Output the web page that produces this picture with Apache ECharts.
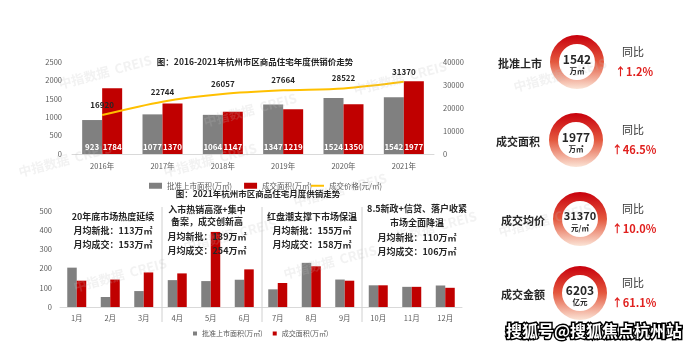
<!DOCTYPE html>
<html>
<head>
<meta charset="utf-8">
<script src="https://cdn.jsdelivr.net/npm/echarts@6/dist/echarts.min.js"></script>
<style>
  html, body { margin: 0; padding: 0; background: #fff; }
  #chart { width: 689px; height: 354px; }
</style>
</head>
<body>
<div id="chart"></div>
<script>
const FONT = '"Noto Sans CJK SC", "Noto Sans", sans-serif';

// yearly supply / sales / price
const years = ['2016年', '2017年', '2018年', '2019年', '2020年', '2021年'];
const approvedYear = [923, 1077, 1064, 1347, 1524, 1542];
const soldYear = [1784, 1370, 1147, 1219, 1350, 1977];
const priceYear = [16920, 22744, 26057, 27664, 28522, 31370];

// 2021 monthly
const months = ['1月', '2月', '3月', '4月', '5月', '6月', '7月', '8月', '9月', '10月', '11月', '12月'];
const approvedMonth = [205, 52, 83, 140, 135, 142, 92, 230, 143, 113, 105, 112];
const soldMonth = [137, 143, 180, 175, 391, 196, 125, 212, 137, 113, 105, 100];

// annotations per quarter
const quarterNotes = [
  ['20年底市场热度延续', '月均新批：113万㎡', '月均成交：153万㎡'],
  ['入市热销高涨+集中', '备案，成交创新高', '月均新批：139万㎡', '月均成交：254万㎡'],
  ['红盘潮支撑下市场保温', '月均新批：155万㎡', '月均成交：158万㎡'],
  ['8.5新政+信贷、落户收紧', '市场全面降温', '月均新批：110万㎡', '月均成交：106万㎡']
];

// KPI cards
const kpiNames = ['批准上市', '成交面积', '成交均价', '成交金额'];
const kpiValues = ['1542', '1977', '31370', '6203'];
const kpiUnits = ['万㎡', '万㎡', '元/㎡', '亿元'];
const kpiYoY = ['↑1.2%', '↑46.5%', '↑10.0%', '↑61.1%'];

const GRAY = '#808080';
const RED = '#c00000';
const GOLD = '#ffc000';

const chart = echarts.init(document.getElementById('chart'));

function txt(text, x, y, size, opts) {
  opts = opts || {};
  return {
    type: 'text',
    silent: true,
    z: opts.z || 10,
    rotation: opts.rotation || 0,
    x: x, y: y,
    style: {
      text: text,
      x: 0, y: 0,
      fill: opts.fill || '#262626',
      stroke: opts.stroke,
      lineWidth: opts.lineWidth,
      font: (opts.weight || 'normal') + ' ' + size + 'px ' + FONT,
      textAlign: 'center', align: 'center',
      textVerticalAlign: 'middle', verticalAlign: 'middle'
    }
  };
}

const graphics = [];

// faint CREIS watermarks
[[105, 72], [250, 110], [400, 78], [65, 160], [210, 160], [340, 190], [120, 275],
 [230, 235], [330, 262], [430, 228], [560, 75], [545, 220]].forEach(p => {
  graphics.push(txt('中指数据  CREIS', p[0], p[1], 13, {
    fill: 'rgba(190,190,190,0.2)', weight: 'bold', rotation: 0.26, z: 0
  }));
});

graphics.push(txt('图：2016-2021年杭州市区商品住宅年度供销价走势', 255, 62, 8.5, { weight: 'bold' }));
graphics.push(txt('图：2021年杭州市区商品住宅月度供销走势', 258, 194, 8.5, { weight: 'bold' }));

// quarter separators
[162, 262, 362].forEach(x => {
  graphics.push({
    type: 'line', silent: true, z: 5,
    shape: { x1: x, y1: 207, x2: x, y2: 322 },
    style: { stroke: '#d0d0d0', lineWidth: 1 }
  });
});

const noteX = [113, 207, 312, 417];
const noteY = [[217, 231, 245], [210, 222, 237, 251], [217, 231, 245], [209, 223, 238, 252]];
quarterNotes.forEach((lines, i) => {
  lines.forEach((l, j) => {
    graphics.push(txt(l, noteX[i], noteY[i][j], 9, { weight: 'bold', z: 20 }));
  });
});

// KPI labels
const ringCenters = [[577, 62], [576, 140], [580, 219], [580, 293]];
const nameX = [520, 518, 523, 523];
kpiNames.forEach((n, i) => {
  const c = ringCenters[i];
  graphics.push(txt(n, nameX[i], c[1] + 2, 11, { weight: 'bold' }));
  graphics.push(txt(kpiValues[i], c[0], c[1] - 3, kpiValues[i].length > 4 ? 11 : 12, { weight: 'bold', z: 30 }));
  graphics.push(txt(kpiUnits[i], c[0], c[1] + 9, 7.5, { weight: 'bold', z: 30 }));
  graphics.push(txt('同比', 633, c[1] - 10, 11, { fill: '#333' }));
  graphics.push(txt(kpiYoY[i], 634, c[1] + 10, 11, { fill: '#e0201e', weight: 'bold' }));
});

graphics.push(txt('搜狐号@搜狐焦点杭州站', 594, 331, 16, {
  fill: '#fff', stroke: '#000', lineWidth: 3, weight: 'bold', z: 50
}));

const ringGradient = new echarts.graphic.LinearGradient(0, 0, 0, 1, [
  { offset: 0, color: '#c8000c' },
  { offset: 0.5, color: '#e4583e' },
  { offset: 1, color: '#fbe4d6' }
]);

const axisLabel = { color: '#595959', fontSize: 7.5, fontFamily: FONT, formatter: v => String(v) };

const option = {
  animation: false,
  backgroundColor: '#fff',
  textStyle: { fontFamily: FONT },
  graphic: graphics,
  legend: [
    {
      data: ['批准上市面积(万㎡)', '成交面积(万㎡)'],
      left: 144, top: 177, itemWidth: 13, itemHeight: 6, itemGap: 12, icon: 'rect',
      textStyle: { color: '#595959', fontSize: 7.5 }, selectedMode: false
    },
    {
      data: ['成交价格(元/㎡)'],
      left: 306, top: 177, itemWidth: 13, itemHeight: 2, icon: 'rect',
      textStyle: { color: '#595959', fontSize: 7.5 }, selectedMode: false
    },
    {
      data: ['批准上市面积(万㎡)', '成交面积(万㎡)'],
      left: 188, top: 325, itemWidth: 4, itemHeight: 4, itemGap: 10, icon: 'rect',
      textStyle: { color: '#595959', fontSize: 7 }, selectedMode: false
    }
  ],
  grid: [
    { left: 72, right: 255, top: 62, bottom: 200 },
    { left: 60, right: 227, top: 211, bottom: 47 }
  ],
  xAxis: [
    {
      gridIndex: 0, type: 'category', data: years,
      axisLine: { lineStyle: { color: '#d9d9d9' } }, axisTick: { show: false },
      axisLabel: Object.assign({}, axisLabel, { margin: 8 })
    },
    {
      gridIndex: 1, type: 'category', data: months,
      axisLine: { lineStyle: { color: '#d9d9d9' } }, axisTick: { show: false },
      axisLabel: Object.assign({}, axisLabel, { margin: 7 })
    }
  ],
  yAxis: [
    {
      gridIndex: 0, type: 'value', min: 0, max: 2500, interval: 500,
      splitLine: { show: false }, axisLine: { show: false }, axisTick: { show: false },
      axisLabel: Object.assign({}, axisLabel, { margin: 10 })
    },
    {
      gridIndex: 0, type: 'value', min: 0, max: 40000, interval: 10000, position: 'right',
      splitLine: { show: false }, axisLine: { show: false }, axisTick: { show: false },
      axisLabel: Object.assign({}, axisLabel, { margin: 9 })
    },
    {
      gridIndex: 1, type: 'value', min: 0, max: 500, interval: 100,
      splitLine: { show: false }, axisLine: { show: false }, axisTick: { show: false },
      axisLabel: Object.assign({}, axisLabel, { margin: 8 })
    }
  ],
  series: [
    {
      type: 'bar', name: '批准上市面积(万㎡)', data: approvedYear,
      xAxisIndex: 0, yAxisIndex: 0, barWidth: 20, barGap: '0%', itemStyle: { color: GRAY },
      label: { show: true, position: 'insideBottom', distance: 3, color: '#fff', fontSize: 8, fontWeight: 'bold' }
    },
    {
      type: 'bar', name: '成交面积(万㎡)', data: soldYear,
      xAxisIndex: 0, yAxisIndex: 0, barWidth: 20, barGap: '0%', itemStyle: { color: RED },
      label: { show: true, position: 'insideBottom', distance: 3, color: '#fff', fontSize: 8, fontWeight: 'bold' }
    },
    {
      type: 'line', name: '成交价格(元/㎡)', data: priceYear,
      xAxisIndex: 0, yAxisIndex: 1, smooth: 0.3, symbol: 'circle', symbolSize: 0,
      lineStyle: { color: GOLD, width: 2 }, itemStyle: { color: GOLD }, z: 5,
      label: { show: true, position: 'top', distance: 6, color: '#262626', fontSize: 8, fontWeight: 'bold' }
    },
    {
      type: 'bar', name: '批准上市面积(万㎡)', data: approvedMonth,
      xAxisIndex: 1, yAxisIndex: 2, barWidth: 9.5, barGap: '0%', itemStyle: { color: GRAY }
    },
    {
      type: 'bar', name: '成交面积(万㎡)', data: soldMonth,
      xAxisIndex: 1, yAxisIndex: 2, barWidth: 9.5, barGap: '0%', itemStyle: { color: RED }
    }
  ].concat(kpiValues.map((v, i) => ({
    type: 'pie', name: kpiNames[i], silent: true,
    center: ringCenters[i], radius: [18, 27],
    label: { show: false }, labelLine: { show: false },
    data: [{ value: 1, name: kpiNames[i], itemStyle: { color: ringGradient } }]
  })))
};

chart.setOption(option);
</script>
</body>
</html>
